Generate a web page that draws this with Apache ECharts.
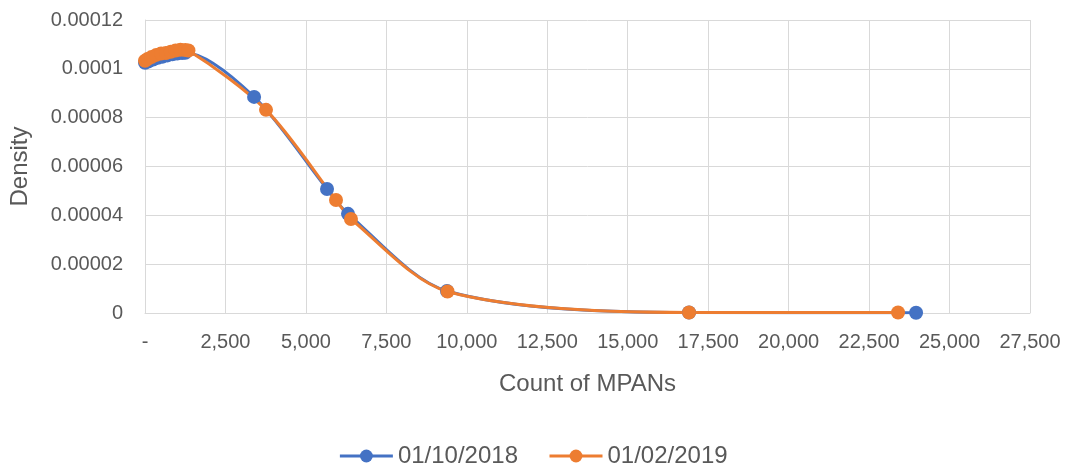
<!DOCTYPE html>
<html>
<head>
<meta charset="utf-8">
<script src="https://cdn.jsdelivr.net/npm/echarts@6/dist/echarts.min.js"></script>
<style>html,body{margin:0;padding:0;background:#fff}#c{width:1066px;height:463px}</style>
</head>
<body>
<div id="c"></div>
<script>
var seriesNames = ['01/10/2018', '01/02/2019'];
var blueX = [0, 100, 250, 400, 550, 700, 850, 1000, 1150, 1250, 3390, 5656, 6308, 9385, 16905, 23960];
var blueY = [0.0001025, 0.000103, 0.0001038, 0.0001045, 0.000105, 0.0001055, 0.000106, 0.0001063, 0.0001065, 0.0001066, 0.0000885, 0.0000508, 0.0000406, 0.0000090, 0.0000002, 0.0000001];
var orangeX = [0, 80, 200, 350, 500, 650, 800, 950, 1100, 1250, 1350, 3760, 5935, 6400, 9400, 16905, 23400];
var orangeY = [0.0001033, 0.000104, 0.0001048, 0.0001057, 0.0001063, 0.0001065, 0.000107, 0.0001075, 0.0001078, 0.0001077, 0.0001075, 0.0000832, 0.0000463, 0.0000385, 0.0000088, 0.0000002, 0.0000002];
var xTickLabels = ['-', '2,500', '5,000', '7,500', '10,000', '12,500', '15,000', '17,500', '20,000', '22,500', '25,000', '27,500'];
var yTickLabels = ['0', '0.00002', '0.00004', '0.00006', '0.00008', '0.0001', '0.00012'];

function zip(xs, ys) { return xs.map(function (x, i) { return [x, ys[i]]; }); }

var chart = echarts.init(document.getElementById('c'));
var font = 'Liberation Sans, Arial, sans-serif';
chart.setOption({
  animation: false,
  grid: { left: 145, right: 36, top: 20, bottom: 150 },
  legend: {
    top: 439, left: 'center', itemWidth: 53, itemHeight: 16, itemGap: 30,
    lineStyle: { width: 3 },
    textStyle: { fontFamily: font, fontSize: 24, color: '#595959' },
    data: seriesNames
  },
  xAxis: {
    type: 'value', min: 0, max: 27500, interval: 2500,
    name: 'Count of MPANs', nameLocation: 'middle', nameGap: 59,
    nameTextStyle: { fontFamily: font, fontSize: 24, color: '#595959' },
    axisLine: { show: true, lineStyle: { color: '#d9d9d9', width: 1 } },
    axisTick: { show: false },
    axisLabel: { margin: 19, fontFamily: font, fontSize: 20, color: '#595959',
      formatter: function (v) { return xTickLabels[Math.round(v / 2500)]; } },
    splitLine: { show: true, lineStyle: { color: '#d9d9d9', width: 1 } }
  },
  yAxis: {
    type: 'value', min: 0, max: 0.00012, interval: 0.00002,
    name: 'Density', nameLocation: 'middle', nameGap: 113,
    nameTextStyle: { fontFamily: font, fontSize: 24, color: '#595959' },
    axisLine: { show: true, lineStyle: { color: '#d9d9d9', width: 1 } },
    axisTick: { show: false },
    axisLabel: { margin: 22, fontFamily: font, fontSize: 20, color: '#595959',
      formatter: function (v) { return yTickLabels[Math.round(v / 0.00002)]; } },
    splitLine: { show: true, lineStyle: { color: '#d9d9d9', width: 1 } }
  },
  series: [
    { name: seriesNames[0], type: 'line', smooth: 0.3, data: zip(blueX, blueY),
      symbol: 'circle', symbolSize: 14, lineStyle: { width: 3, color: '#4472C4' },
      itemStyle: { color: '#4472C4' } },
    { name: seriesNames[1], type: 'line', smooth: 0.3, data: zip(orangeX, orangeY),
      symbol: 'circle', symbolSize: 14, lineStyle: { width: 3, color: '#ED7D31' },
      itemStyle: { color: '#ED7D31' } }
  ]
});
</script>
</body>
</html>
